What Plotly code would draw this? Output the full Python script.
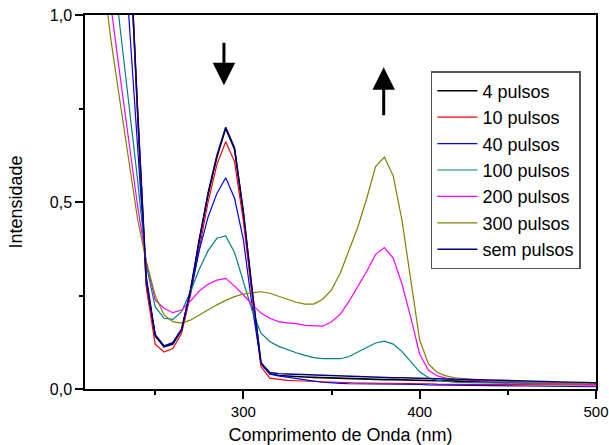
import plotly.graph_objects as go

wavelength = [220, 225, 230, 235, 240, 245, 250, 255, 260, 265, 270, 275, 280, 285, 290, 295,
              300, 305, 310, 315, 320, 325, 330, 335, 340, 345, 350, 355, 360, 365, 370, 375,
              380, 385, 390, 395, 400, 405, 410, 415, 420, 440, 460, 480, 500]

p4 = [2.2, 1.9, 1.6, 1.25, 0.74, 0.28, 0.142, 0.113, 0.12, 0.158, 0.26, 0.40, 0.52, 0.62, 0.697, 0.641,
      0.47, 0.26, 0.068, 0.041, 0.036, 0.034, 0.033, 0.032, 0.031, 0.030, 0.029, 0.028, 0.028, 0.027, 0.026, 0.026,
      0.025, 0.025, 0.024, 0.024, 0.023, 0.023, 0.022, 0.022, 0.021, 0.019, 0.017, 0.016, 0.014]

p10 = [2.2, 1.9, 1.6, 1.25, 0.74, 0.27, 0.12, 0.099, 0.108, 0.149, 0.25, 0.38, 0.50, 0.60, 0.661, 0.608,
       0.45, 0.25, 0.06, 0.029, 0.025, 0.023, 0.022, 0.021, 0.020, 0.019, 0.018, 0.017, 0.017, 0.016, 0.016, 0.016,
       0.015, 0.015, 0.015, 0.014, 0.014, 0.014, 0.013, 0.013, 0.013, 0.012, 0.011, 0.011, 0.010]

p40 = [2.0, 1.7, 1.35, 1.0, 0.66, 0.30, 0.145, 0.115, 0.125, 0.16, 0.26, 0.37, 0.46, 0.523, 0.565, 0.51,
       0.40, 0.22, 0.07, 0.04, 0.035, 0.031, 0.028, 0.024, 0.021, 0.018, 0.016, 0.015, 0.014, 0.014, 0.013, 0.013,
       0.013, 0.012, 0.012, 0.012, 0.012, 0.011, 0.011, 0.011, 0.010, 0.009, 0.008, 0.007, 0.006]

p100 = [1.5, 1.18, 0.97, 0.77, 0.56, 0.33, 0.22, 0.189, 0.186, 0.207, 0.26, 0.32, 0.37, 0.403, 0.409, 0.365,
        0.29, 0.21, 0.149, 0.127, 0.114, 0.105, 0.097, 0.09, 0.084, 0.081, 0.08, 0.081, 0.087, 0.099, 0.113, 0.123,
        0.128, 0.12, 0.10, 0.073, 0.046, 0.03, 0.023, 0.02, 0.018, 0.016, 0.014, 0.013, 0.012]

p200 = [1.25, 1.02, 0.84, 0.67, 0.49, 0.34, 0.238, 0.216, 0.204, 0.211, 0.235, 0.262, 0.28, 0.291, 0.296, 0.275,
        0.252, 0.226, 0.203, 0.189, 0.18, 0.177, 0.175, 0.17, 0.168, 0.168, 0.18, 0.20, 0.235, 0.274, 0.315, 0.36,
        0.378, 0.35, 0.28, 0.19, 0.093, 0.05, 0.035, 0.029, 0.026, 0.02, 0.017, 0.014, 0.012]

p300 = [1.12, 0.93, 0.77, 0.61, 0.455, 0.34, 0.25, 0.198, 0.18, 0.176, 0.184, 0.198, 0.212, 0.225, 0.237, 0.247,
        0.254, 0.258, 0.26, 0.256, 0.248, 0.241, 0.232, 0.227, 0.227, 0.24, 0.265, 0.31, 0.37, 0.434, 0.51, 0.595,
        0.62, 0.57, 0.45, 0.29, 0.131, 0.067, 0.044, 0.035, 0.03, 0.022, 0.018, 0.016, 0.014]

sem = [2.2, 1.9, 1.6, 1.25, 0.75, 0.29, 0.145, 0.115, 0.122, 0.16, 0.265, 0.40, 0.525, 0.625, 0.70, 0.645,
       0.475, 0.265, 0.07, 0.044, 0.041, 0.040, 0.039, 0.038, 0.037, 0.036, 0.035, 0.034, 0.033, 0.033, 0.032, 0.031,
       0.031, 0.030, 0.030, 0.029, 0.029, 0.028, 0.027, 0.027, 0.026, 0.024, 0.021, 0.019, 0.017]

series_names = ["4 pulsos", "10 pulsos", "40 pulsos", "100 pulsos", "200 pulsos", "300 pulsos", "sem pulsos"]
series_values = [p4, p10, p40, p100, p200, p300, sem]
series_colors = ["#000000", "#FF0000", "#0000FF", "#008080", "#FF00FF", "#808000", "#000080"]
series_widths = [1.6, 1.2, 1.2, 1.2, 1.2, 1.2, 1.4]

FONT = "Liberation Sans, Arial, sans-serif"

fig = go.Figure()
for name, vals, col, w in zip(series_names, series_values, series_colors, series_widths):
    fig.add_trace(go.Scatter(x=wavelength, y=vals, mode="lines", name=name,
                             line=dict(color=col, width=w)))

# arrows
fig.add_annotation(x=289, y=0.812, ax=289, ay=0.93, xref="x", yref="y", axref="x", ayref="y",
                   showarrow=True, arrowhead=2, arrowsize=1.5, arrowwidth=3, arrowcolor="black", text="")
fig.add_annotation(x=379.6, y=0.86, ax=379.6, ay=0.728, xref="x", yref="y", axref="x", ayref="y",
                   showarrow=True, arrowhead=2, arrowsize=1.5, arrowwidth=3, arrowcolor="black", text="")

fig.update_layout(
    width=609, height=445,
    margin=dict(l=85, r=13, t=15, b=56, autoexpand=False),
    paper_bgcolor="white", plot_bgcolor="white",
    separators=",.",
    font=dict(family=FONT, size=15, color="black"),
    showlegend=True,
    legend=dict(x=0.677, y=0.85, xanchor="left", yanchor="top",
                bgcolor="white", bordercolor="#555555", borderwidth=1.5,
                font=dict(family=FONT, size=18, color="black"),
                itemwidth=40, tracegroupgap=0),
)
fig.update_xaxes(range=[210.2, 500], showgrid=False, zeroline=False, automargin=False,
                 showline=True, linecolor="black", linewidth=1.5, mirror=True,
                 ticks="outside", ticklen=8, tickwidth=1.5, tickcolor="black",
                 tickvals=[300, 400, 500], ticktext=["300", "400", "500"],
                 minor=dict(tickvals=[250, 350, 450], ticks="outside", ticklen=4, tickwidth=1.5, tickcolor="black"),
                 title=dict(text="Comprimento de Onda (nm)", font=dict(size=18), standoff=12),
                 tickfont=dict(size=15))
fig.update_yaxes(range=[0, 1.0], showgrid=False, zeroline=False, automargin=False,
                 showline=True, linecolor="black", linewidth=1.5, mirror=True,
                 ticks="outside", ticklen=8, tickwidth=1.5, tickcolor="black",
                 tickvals=[0, 0.5, 1.0], tickformat=".1f",
                 minor=dict(tickvals=[0.25, 0.75], ticks="outside", ticklen=4, tickwidth=1.5, tickcolor="black"),
                 title=dict(text="Intensidade", font=dict(size=18), standoff=22),
                 tickfont=dict(size=16))

fig.write_html("out.html")
